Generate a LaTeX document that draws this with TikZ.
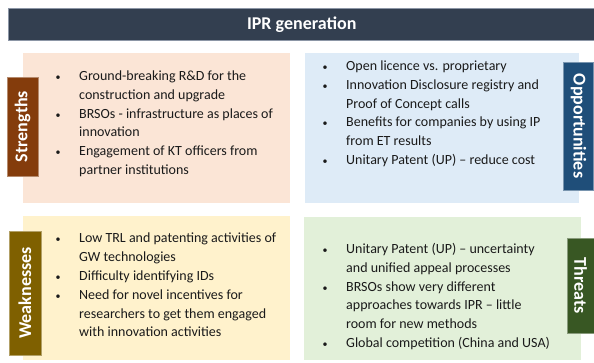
\documentclass[tikz,border=0pt]{standalone}
\usepackage{fontspec}
\setmainfont{Carlito}
\usepackage{array}
\definecolor{titlebg}{HTML}{333F50}
\definecolor{titleedge}{HTML}{8C96A6}
\definecolor{pinkbg}{HTML}{FBE5D6}
\definecolor{bluebg}{HTML}{DEEBF7}
\definecolor{yellowbg}{HTML}{FFF2CC}
\definecolor{greenbg}{HTML}{E2F0D9}
\definecolor{slab}{HTML}{843C0C}
\definecolor{olab}{HTML}{1F4E79}
\definecolor{wlab}{HTML}{7F6000}
\definecolor{tlab}{HTML}{385723}
\definecolor{txt}{HTML}{1A1A1A}
\newcommand{\bl}{\makebox[6pt]{\fontsize{10}{10}\selectfont •}\hspace{18pt}}
\newcommand{\nb}{\hspace{24pt}}
\tikzset{
  quad/.style={inner sep=0pt, anchor=north west, draw=none},
  lab/.style={text=white, font=\fontsize{18}{20}\selectfont\bfseries, inner sep=0pt, align=center, draw=white!40!#1, line width=0.5pt, fill=#1},
  items/.style={anchor=base west, inner sep=0pt, text=txt, font=\fontsize{14}{18.8}\selectfont}
}
\begin{document}
\begin{tikzpicture}[x=1pt,y=-1pt]
\useasboundingbox (0,0) rectangle (594,362);
\fill[white] (0,0) rectangle (594,362);
% title
\node[anchor=north west, fill=titlebg, draw=titleedge, line width=0.5pt, minimum width=587pt, minimum height=32pt, inner sep=0pt, text=white, font=\fontsize{18}{20}\selectfont\bfseries] (title) at (8,8) {IPR generation};
% quadrants
\node[quad, fill=pinkbg, minimum width=267pt, minimum height=150pt] (sbox) at (23,53) {};
\node[quad, fill=bluebg, minimum width=274pt, minimum height=150pt] (obox) at (305,53) {};
\node[quad, fill=yellowbg, minimum width=267pt, minimum height=144pt] (wbox) at (23,216) {};
\node[quad, fill=greenbg, minimum width=277pt, minimum height=143pt] (tbox) at (304,217) {};
% labels
\node[lab=slab, rotate=90, minimum width=99pt, minimum height=31pt] (slabel) at (22.5,126.5) {Strengths};
\node[lab=olab, rotate=-90, minimum width=128pt, minimum height=30pt] (olabel) at (578.5,126) {Opportunities};
\node[lab=wlab, rotate=90, minimum width=124pt, minimum height=32pt] (wlabel) at (25,293) {Weaknesses};
\node[lab=tlab, rotate=-90, minimum width=95pt, minimum height=27pt] (tlabel) at (580.5,285.5) {Threats};
% items
\node[items] (sitems) at (55,80.5) {\begin{tabular}[t]{@{}l@{}}
\bl Ground-breaking R\&D for the\\
\nb construction and upgrade\\
\bl BRSOs - infrastructure as places of\\
\nb innovation\\
\bl Engagement of KT officers from\\
\nb partner institutions
\end{tabular}};
\node[items] (oitems) at (322,70.5) {\begin{tabular}[t]{@{}l@{}}
\bl Open licence vs. proprietary\\
\bl Innovation Disclosure registry and\\
\nb Proof of Concept calls\\
\bl Benefits for companies by using IP\\
\nb from ET results\\
\bl Unitary Patent (UP) – reduce cost
\end{tabular}};
\node[items] (witems) at (55,242.8) {\begin{tabular}[t]{@{}l@{}}
\bl Low TRL and patenting activities of\\
\nb GW technologies\\
\bl Difficulty identifying IDs\\
\bl Need for novel incentives for\\
\nb researchers to get them engaged\\
\nb with innovation activities
\end{tabular}};
\node[items] (titems) at (322,253.5) {\begin{tabular}[t]{@{}l@{}}
\bl Unitary Patent (UP) – uncertainty\\
\nb and unified appeal processes\\
\bl BRSOs show very different\\
\nb approaches towards IPR – little\\
\nb room for new methods\\
\bl Global competition (China and USA)
\end{tabular}};
\end{tikzpicture}
\end{document}
